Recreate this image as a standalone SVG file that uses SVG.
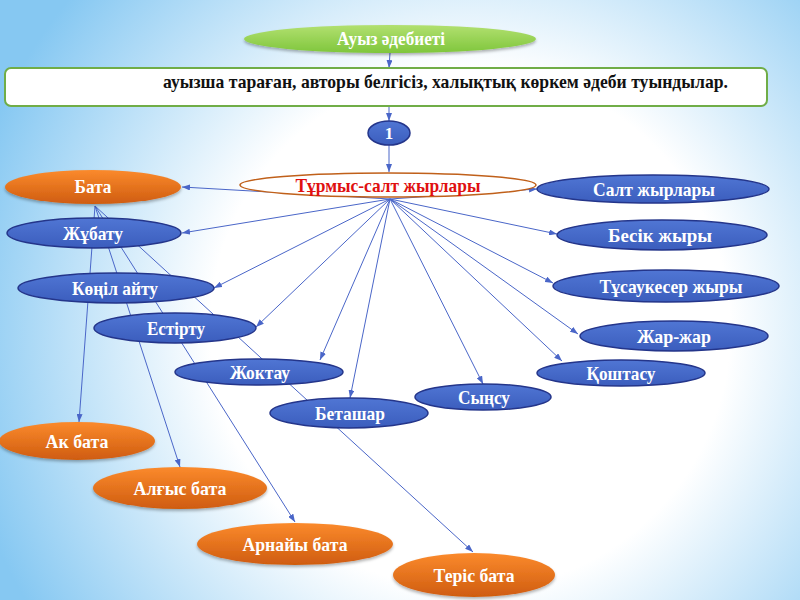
<svg xmlns="http://www.w3.org/2000/svg" width="800" height="600" viewBox="0 0 800 600">
<defs>
<radialGradient id="bg" gradientUnits="userSpaceOnUse" cx="470" cy="330" r="520">
<stop offset="0" stop-color="#ffffff"/>
<stop offset="0.5" stop-color="#ffffff"/>
<stop offset="1" stop-color="#86c8f2"/>
</radialGradient>
<linearGradient id="gOr" x1="0" y1="0" x2="0" y2="1">
<stop offset="0" stop-color="#fb8a2c"/>
<stop offset="1" stop-color="#cf5c10"/>
</linearGradient>
<linearGradient id="gGr" x1="0" y1="0" x2="0" y2="1">
<stop offset="0" stop-color="#b2e070"/>
<stop offset="1" stop-color="#7fc63c"/>
</linearGradient>
<linearGradient id="gBl" x1="0" y1="0" x2="0" y2="1">
<stop offset="0" stop-color="#5076d4"/>
<stop offset="1" stop-color="#3b5dbd"/>
</linearGradient>
<filter id="sh" x="-20%" y="-40%" width="140%" height="180%">
<feDropShadow dx="0" dy="2" stdDeviation="1.5" flood-color="#000" flood-opacity="0.3"/>
</filter>
<marker id="ar" markerUnits="userSpaceOnUse" markerWidth="8" markerHeight="6" refX="8" refY="3" orient="auto">
<path d="M0,0 L8,3 L0,6 z" fill="#4a66c8"/>
</marker>
<style>
.ln{stroke:#4a66c8;stroke-width:1;fill:none;marker-end:url(#ar)}
.bl{fill:url(#gBl);stroke:#24358a;stroke-width:1.5}
.or{fill:url(#gOr);filter:url(#sh)}
.t{font-family:"Liberation Serif","Times New Roman",serif;font-weight:bold;font-size:19px;fill:#fff;text-anchor:middle}
</style>
</defs>
<rect width="800" height="600" fill="url(#bg)"/>

<g id="connectors">
<line class="ln" x1="390" y1="53" x2="389" y2="68"/>
<line class="ln" x1="389" y1="106" x2="389" y2="121"/>
<line class="ln" x1="389" y1="145" x2="389" y2="172"/>
<line class="ln" x1="390" y1="199" x2="182" y2="187"/>
<line class="ln" x1="390" y1="199" x2="182" y2="233"/>
<line class="ln" x1="390" y1="199" x2="214" y2="288"/>
<line class="ln" x1="390" y1="199" x2="256" y2="327"/>
<line class="ln" x1="390" y1="199" x2="320" y2="360"/>
<line class="ln" x1="390" y1="199" x2="350" y2="398"/>
<line class="ln" x1="390" y1="199" x2="483" y2="384"/>
<line class="ln" x1="390" y1="199" x2="562" y2="361"/>
<line class="ln" x1="390" y1="199" x2="578" y2="334"/>
<line class="ln" x1="390" y1="199" x2="553" y2="283"/>
<line class="ln" x1="390" y1="199" x2="557" y2="234"/>
<line class="ln" x1="390" y1="199" x2="537" y2="189"/>
<line class="ln" x1="95" y1="206" x2="79" y2="422"/>
<line class="ln" x1="95" y1="206" x2="180" y2="467"/>
<line class="ln" x1="95" y1="206" x2="295" y2="522"/>
<line class="ln" x1="95" y1="206" x2="473" y2="552"/>
</g>

<g id="n-auyz">
<ellipse cx="390" cy="39" rx="146" ry="14" fill="url(#gGr)" filter="url(#sh)"/>
<text class="t" x="391" y="45" font-size="18" style="font-size:18px" textLength="108" lengthAdjust="spacingAndGlyphs">Ауыз әдебиеті</text>
</g>

<g id="n-def">
<rect x="5" y="68" width="762" height="38" rx="6" fill="#fff" stroke="#70ad47" stroke-width="2"/>
<text x="163" y="88" font-family="'Liberation Serif','Times New Roman',serif" font-weight="bold" font-size="19" fill="#111" textLength="565" lengthAdjust="spacingAndGlyphs">ауызша тараған, авторы белгісіз, халықтық көркем әдеби туындылар.</text>
</g>

<g id="n-1">
<ellipse cx="389" cy="133" rx="21" ry="12" class="bl"/>
<text class="t" x="389" y="139" style="font-size:17px">1</text>
</g>

<g id="n-turmys">
<ellipse cx="388" cy="185" rx="148" ry="12" fill="#fff" stroke="#c0601a" stroke-width="1.5"/>
<text class="t" x="388" y="192" style="fill:#e01010" textLength="185" lengthAdjust="spacingAndGlyphs">Тұрмыс-салт жырлары</text>
</g>

<g id="n-bata">
<ellipse cx="93" cy="187" rx="88" ry="17" class="or"/>
<text class="t" x="93" y="193" textLength="37" lengthAdjust="spacingAndGlyphs">Бата</text>
</g>
<g id="n-zhubatu">
<ellipse cx="94" cy="233" rx="87" ry="15" class="bl"/>
<text class="t" x="93" y="240" textLength="60" lengthAdjust="spacingAndGlyphs">Жұбату</text>
</g>
<g id="n-konil">
<ellipse cx="116" cy="288" rx="98" ry="15" class="bl"/>
<text class="t" x="115" y="295" textLength="86" lengthAdjust="spacingAndGlyphs">Көңіл айту</text>
</g>
<g id="n-estirtu">
<ellipse cx="175" cy="328" rx="81" ry="15" class="bl"/>
<text class="t" x="176" y="335" textLength="58" lengthAdjust="spacingAndGlyphs">Естірту</text>
</g>
<g id="n-zhoktau">
<ellipse cx="259" cy="372" rx="84" ry="13" class="bl"/>
<text class="t" x="260" y="379" textLength="60" lengthAdjust="spacingAndGlyphs">Жоктау</text>
</g>
<g id="n-betashar">
<ellipse cx="349" cy="413" rx="79" ry="15" class="bl"/>
<text class="t" x="350" y="420" textLength="70" lengthAdjust="spacingAndGlyphs">Беташар</text>
</g>
<g id="n-synsu">
<ellipse cx="483" cy="397" rx="68" ry="13" class="bl"/>
<text class="t" x="484" y="404" textLength="52" lengthAdjust="spacingAndGlyphs">Сыңсу</text>
</g>
<g id="n-salt">
<ellipse cx="653" cy="189" rx="116" ry="14" class="bl"/>
<text class="t" x="654" y="196" textLength="122" lengthAdjust="spacingAndGlyphs">Салт жырлары</text>
</g>
<g id="n-besik">
<ellipse cx="662" cy="235" rx="105" ry="15" class="bl"/>
<text class="t" x="660" y="242" textLength="104" lengthAdjust="spacingAndGlyphs">Бесік жыры</text>
</g>
<g id="n-tusau">
<ellipse cx="666" cy="286" rx="113" ry="16" class="bl"/>
<text class="t" x="671" y="293" textLength="143" lengthAdjust="spacingAndGlyphs">Тұсаукесер жыры</text>
</g>
<g id="n-zharzhar">
<ellipse cx="674" cy="336" rx="94" ry="15" class="bl"/>
<text class="t" x="674" y="343" textLength="74" lengthAdjust="spacingAndGlyphs">Жар-жар</text>
</g>
<g id="n-koshtasu">
<ellipse cx="621" cy="373" rx="84" ry="13" class="bl"/>
<text class="t" x="621" y="380" textLength="69" lengthAdjust="spacingAndGlyphs">Қоштасу</text>
</g>

<g id="n-akbata">
<ellipse cx="77" cy="441" rx="78" ry="19" class="or"/>
<text class="t" x="77" y="448" textLength="63" lengthAdjust="spacingAndGlyphs">Ак бата</text>
</g>
<g id="n-algys">
<ellipse cx="180" cy="488" rx="87" ry="21" class="or"/>
<text class="t" x="180" y="495" textLength="93" lengthAdjust="spacingAndGlyphs">Алғыс бата</text>
</g>
<g id="n-arnaiy">
<ellipse cx="295" cy="544" rx="98" ry="21" class="or"/>
<text class="t" x="295" y="551" textLength="105" lengthAdjust="spacingAndGlyphs">Арнайы бата</text>
</g>
<g id="n-teris">
<ellipse cx="474" cy="575" rx="81" ry="22" class="or"/>
<text class="t" x="474" y="582" textLength="81" lengthAdjust="spacingAndGlyphs">Теріс бата</text>
</g>
</svg>
